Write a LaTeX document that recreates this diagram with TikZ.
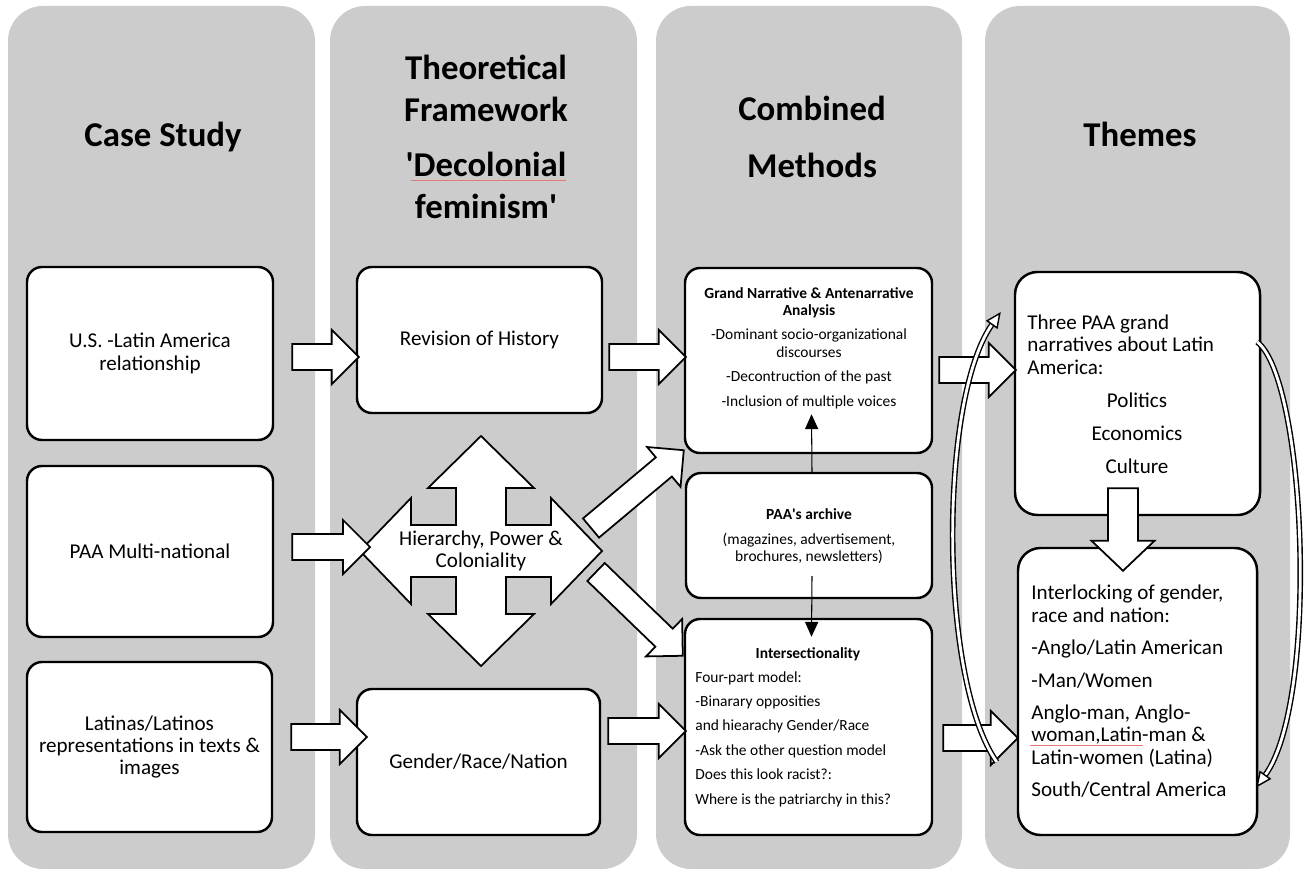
\documentclass[tikz,border=0pt]{standalone}
\usepackage{fontspec}
\setmainfont{Carlito}
\usetikzlibrary{calc,fit,arrows.meta}
\definecolor{panelgray}{RGB}{204,204,204}
\definecolor{spellred}{RGB}{232,120,120}
\tikzset{
 panel/.style={fill=panelgray, rounded corners=0.7cm},
 box/.style={draw=black, line width=1.4pt, fill=white, rounded corners=0.3cm, inner sep=0pt},
 tbox/.style={box, rounded corners=0.45cm},
 body/.style={font=\fontsize{12}{12.75}\selectfont, align=center, inner sep=0pt},
 small/.style={font=\fontsize{8.8}{9.9}\selectfont, inner sep=0pt},
 smallb/.style={font=\fontsize{8.8}{9.9}\selectfont\bfseries, inner sep=0pt},
 head/.style={font=\fontsize{19.8}{23.8}\selectfont\bfseries, align=center, inner sep=0pt},
 blockarr/.style={draw=black, line width=1pt, fill=white, line join=miter},
 thinarr/.style={draw=black, line width=0.6pt, -{Triangle[length=8.5pt,width=7.5pt]}},
 curvearr/.style={draw=black, line width=0.8pt, double=white, double distance=1.6pt,
   -{Triangle[open,length=9pt,width=8pt,fill=white]}},
}
% block arrow: #1 tail, #2 tip, #3 shaft half width, #4 head half width, #5 head length (px)
\newcommand\barrow[5]{%
  \coordinate (bah) at ($(#2)!#5*0.02cm!(#1)$);
  \draw[blockarr] ($(#1)!#3*0.02cm!90:(#2)$) -- ($(bah)!#3*0.02cm!90:(#2)$)
    -- ($(bah)!#4*0.02cm!90:(#2)$) -- (#2) -- ($(bah)!#4*0.02cm!-90:(#2)$)
    -- ($(bah)!#3*0.02cm!-90:(#2)$) -- ($(#1)!#3*0.02cm!-90:(#2)$) -- cycle;}
\begin{document}
\begin{tikzpicture}[x=0.02cm,y=-0.02cm]
\useasboundingbox (0,0) rectangle (1304,875);
\fill[white] (0,0) rectangle (1304,875);
% panels
\fill[panel] (8,6) rectangle (315,869);
\fill[panel] (330,6) rectangle (637,869);
\fill[panel] (656,6) rectangle (962,869);
\fill[panel] (985,6) rectangle (1290,869);
% headers
\node[head, anchor=base] (h1) at (163,146) {Case Study};
\node[head] (h2) at (486,137) {Theoretical\\Framework\\[7.4pt]\textquotesingle Decolonial\\feminism\textquotesingle};
\node[head] (h3) at (812,137) {Combined\\[9pt]Methods};
\node[head, anchor=base] (h4) at (1140,146) {Themes};
\draw[spellred, line width=0.5pt] (411,180) -- (566,180);
% boxes
\node[box, fit={(27,267) (273,440)}] (A) {};
\node[box, fit={(27,466) (273,637)}] (B) {};
\node[box, fit={(27,662) (272,832)}] (C) {};
\node[box, fit={(357,267) (602,413)}] (rev) {};
\node[box, fit={(357,689) (600,835)}] (grn) {};
\node[box, fit={(685,268) (932,453)}] (gn) {};
\node[box, fit={(686,473) (932,598)}] (archive) {};
\node[box, fit={(685,619) (932,835)}] (inter) {};
\node[tbox, fit={(1015,272) (1260,515)}] (three) {};
\node[tbox, fit={(1018,548) (1257,835)}] (interlock) {};
\node[body] (At) at (A) {U.S. -Latin America\\relationship};
\node[body] (Bt) at (B) {PAA Multi-national};
\node[body] (Ct) at (C) {Latinas/Latinos\\representations in texts \&\\images};
\node[body] (revt) at (rev) {Revision of History};
\node[body] (grnt) at (grn) {Gender/Race/Nation};
% four-way arrow
\coordinate (hc) at (481,551);
\draw[blockarr, shift={(hc)}] (0,-115) -- (53,-63) -- (25,-63) -- (25,-26) -- (70,-26) -- (70,-53)
  -- (121,0) -- (70,53) -- (70,26) -- (25,26) -- (25,63) -- (53,63) -- (0,115) -- (-53,63)
  -- (-25,63) -- (-25,26) -- (-70,26) -- (-70,53) -- (-121,0) -- (-70,-53) -- (-70,-26)
  -- (-25,-26) -- (-25,-63) -- (-53,-63) -- cycle;
\node[body] (hpc) at (hc) {Hierarchy, Power \&\\Coloniality};
% block arrows
\coordinate (t1) at ($(A.east)+(18,3.5)$);      \coordinate (p1) at ($(rev.west)+(3,17)$);
\barrow{t1}{p1}{13}{27}{27}
\coordinate (t2) at ($(rev.east)+(6,17)$);      \coordinate (p2) at ($(gn.west)+(2,-3.5)$);
\barrow{t2}{p2}{13}{27}{27}
\coordinate (t3) at ($(B.east)+(18,-4.5)$);     \coordinate (p3) at ($(hc)+(-111,-4)$);
\barrow{t3}{p3}{13}{27}{27}
\coordinate (t4) at ($(hc)+(110,-23)$);         \coordinate (p4) at ($(gn.south west)+(0,-4)$);
\barrow{t4}{p4}{12.5}{26}{26}
\coordinate (t5) at ($(hc)+(115,21)$);          \coordinate (p5) at ($(inter.north west)+(-1,38)$);
\barrow{t5}{p5}{12.5}{26}{26}
\coordinate (t6) at ($(C.east)+(18,-10)$);      \coordinate (p6) at ($(grn.west)+(11,-25)$);
\barrow{t6}{p6}{13}{27}{27}
\coordinate (t7) at ($(grn.east)+(7,-31)$);     \coordinate (p7) at ($(inter.west)+(2,4)$);
\barrow{t7}{p7}{13}{27}{27}
\coordinate (t8) at ($(gn.east)+(6,9.5)$);      \coordinate (p8) at ($(three.west)+(2,-23.5)$);
\barrow{t8}{p8}{13}{27}{27}
\coordinate (t9) at ($(inter.east)+(10,11)$);   \coordinate (p9) at ($(interlock.west)+(1,46.5)$);
\barrow{t9}{p9}{13}{27}{27}
\coordinate (t10) at ($(three.south)+(-14.5,-28)$); \coordinate (p10) at ($(interlock.north)+(-14.5,24)$);
\barrow{t10}{p10}{15}{31.5}{30}
% texts in method boxes
\node[small, align=center] (gnt) at (809,348) {\textbf{Grand Narrative \& Antenarrative}\\\textbf{Analysis}\\[4pt]-Dominant socio-organizational\\discourses\\[4pt]-Decontruction of the past\\[4pt]-Inclusion of multiple voices};
\node[small, align=center] (archt) at (809,536) {\textbf{PAA\textquotesingle s archive}\\[4.3pt](magazines, advertisement,\\brochures, newsletters)};
\node[smallb] (intert) at (808,654) {Intersectionality};
\node[small, align=left, anchor=west, font=\fontsize{8.8}{13.9}\selectfont] (interl) at (695,739) {Four-part model:\\-Binarary opposities\\and hiearachy Gender/Race\\-Ask the other question model\\Does this look racist?:\\Where is the patriarchy in this?};
% texts in theme boxes
\node[body, align=left, anchor=west] (threet) at (1027,344.5) {Three PAA grand\\narratives about Latin\\America:};
\node[body, align=center, font=\fontsize{12}{18.7}\selectfont] (threec) at (1137,433) {Politics\\Economics\\Culture};
\node[body, align=left, anchor=west] (interlockt) at (1031,691.5) {Interlocking of gender,\\race and nation:\\[5.7pt]-Anglo/Latin American\\[5.7pt]-Man/Women\\[5.7pt]Anglo-man, Anglo-\\woman,Latin-man \&\\Latin-women (Latina)\\[5.7pt]South/Central America};
\draw[spellred, line width=0.5pt] (1030,745) -- (1143,745);
% thin arrows
\draw[thinarr] ($(archive.north)+(3,0)$) -- ($(gn.south)+(3,-40)$);
\draw[thinarr] ($(archive.south)+(3,-23)$) -- ($(inter.north)+(3,19)$);
% curved arrows
\coordinate (rc1) at ($(three.east)+(-4,-51.5)$);
\coordinate (rc2) at ($(interlock.east)+(-2,96)$);
\draw[curvearr] (rc1) .. controls +(49,38) and +(63,-87.5) .. (rc2);
\coordinate (lc1) at ($(interlock.west)+(-20,70.5)$);
\coordinate (lc2) at ($(three.west)+(-13,-81.5)$);
\draw[curvearr] (lc1) .. controls +(-58,-82) and +(-62,88) .. (lc2);
\end{tikzpicture}
\end{document}
